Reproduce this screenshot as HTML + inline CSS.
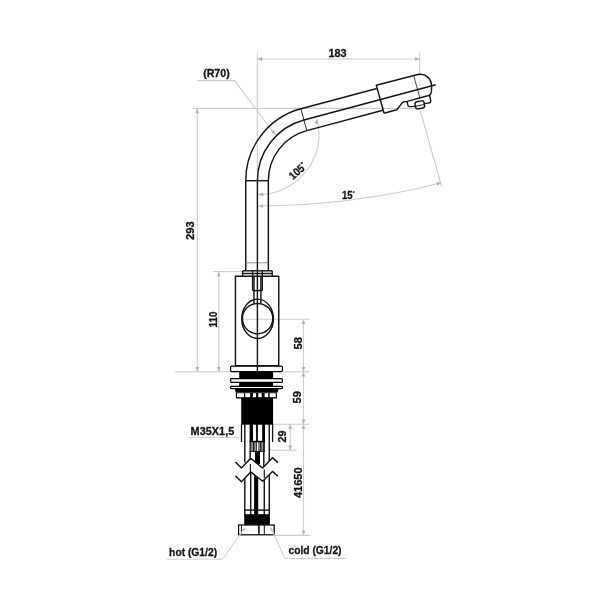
<!DOCTYPE html>
<html><head><meta charset="utf-8">
<style>
html,body{margin:0;padding:0;background:#fff;}
svg{display:block;}
text{font-family:"Liberation Sans",sans-serif;font-weight:bold;font-size:11px;fill:#161616;stroke:#161616;stroke-width:0.3;}
.k{stroke:#161616;stroke-width:1.45;fill:none;stroke-linejoin:round;stroke-linecap:butt;}
.kt{stroke:#161616;stroke-width:0.7;fill:none;}
.g{stroke:#cecece;stroke-width:1.1;fill:none;}
.a{fill:#b5b5b5;stroke:none;}
.b{fill:#000;stroke:none;}
.w{fill:#fff;stroke:#000;stroke-width:1.2;}
</style></head>
<body>
<svg width="604" height="604" viewBox="0 0 604 604">
<rect width="604" height="604" fill="#fff"/>

<!-- gray dimension lines -->
<g class="g">
<line x1="257.3" y1="52.5" x2="257.3" y2="181"/>
<line x1="419.7" y1="52.5" x2="419.7" y2="74"/>
<line x1="419.7" y1="74" x2="419.7" y2="108.5" stroke="#e6e6e6"/>
<line x1="257.3" y1="59" x2="419.7" y2="59"/>
<line x1="193" y1="108.4" x2="420" y2="108.4"/>
<line x1="197.3" y1="108.4" x2="197.3" y2="371.8"/>
<line x1="175" y1="371.8" x2="236" y2="371.8"/>
<line x1="213" y1="271.6" x2="243" y2="271.6"/>
<line x1="218.8" y1="271.6" x2="218.8" y2="371.8"/>
<polyline points="197.4,80.6 234.6,80.6 275.3,134.8"/>
<line x1="243" y1="319.3" x2="309.7" y2="319.3"/>
<line x1="283" y1="371.8" x2="309.5" y2="371.8"/>
<line x1="273.5" y1="424.3" x2="309.5" y2="424.3"/>
<line x1="274.7" y1="535.4" x2="310.5" y2="535.4"/>
<line x1="303.5" y1="319.3" x2="303.5" y2="535.4"/>
<line x1="269.6" y1="450.2" x2="296.8" y2="450.2"/>
<line x1="290.2" y1="424.3" x2="290.2" y2="450.2"/>
<line x1="189.6" y1="437.4" x2="241" y2="437.4" stroke-width="0.9"/>
<polyline points="166.6,559.2 222.6,559.2 238.6,536.6" stroke-width="1"/>
<polyline points="346.1,558.4 284.8,558.4 274.6,535.7" stroke-width="1"/>
<line x1="419.7" y1="108.5" x2="441.6" y2="186.5"/>
<path d="M258.3,206 A741,741 0 0 0 441.4,182.8"/>
<path d="M258.3,194.6 A61,60.5 0 0 0 317.1,118.9"/>
</g>
<g class="a">
<polygon points="257.30,59.00 262.10,57.10 262.10,60.90"/>
<polygon points="419.70,59.00 414.90,60.90 414.90,57.10"/>
<polygon points="197.30,108.40 199.20,113.20 195.40,113.20"/>
<polygon points="197.30,371.80 195.40,367.00 199.20,367.00"/>
<polygon points="218.80,271.60 220.70,276.40 216.90,276.40"/>
<polygon points="218.80,371.80 216.90,367.00 220.70,367.00"/>
<polygon points="303.50,319.30 305.40,324.10 301.60,324.10"/>
<polygon points="303.50,371.80 301.60,367.00 305.40,367.00"/>
<polygon points="303.50,371.80 305.40,376.60 301.60,376.60"/>
<polygon points="303.50,424.30 301.60,419.50 305.40,419.50"/>
<polygon points="303.50,424.30 305.40,429.10 301.60,429.10"/>
<polygon points="303.50,535.40 301.60,530.60 305.40,530.60"/>
<polygon points="290.20,424.30 292.10,429.10 288.30,429.10"/>
<polygon points="290.20,450.20 288.30,445.40 292.10,445.40"/>
<polygon points="275.30,134.80 270.90,132.10 273.94,129.82"/>
<polygon points="258.30,194.60 263.04,192.56 263.15,196.36"/>
<polygon points="317.10,118.90 317.92,124.00 314.21,123.18"/>
<polygon points="258.30,206.00 263.10,204.10 263.10,207.90"/>
<polygon points="441.40,182.80 437.20,185.81 436.28,182.12"/>
</g>

<!-- spout -->
<g class="k">
<line x1="245.75" y1="180.7" x2="245.75" y2="270.7"/>
<line x1="268.35" y1="180.7" x2="268.35" y2="270.7"/>
<line x1="245.75" y1="180.7" x2="268.35" y2="180.7"/>
<path d="M245.75,180.7 A74.45,74.45 0 0 1 300.93,108.79 L376.9,88.43"/>
<path d="M257.4,180.7 A62.8,62.8 0 0 1 303.95,120.04 L435.7,84.75"/>
<path d="M268.35,180.7 A51.85,51.85 0 0 1 306.78,130.62 L382.9,110.2"/>
<path d="M384.1,113.2 L376.3,85.3 L417.85,74.5 C424.5,72.9 431.6,77.8 431.6,86.7 L431.4,91.4 Q431.3,94.2 429.6,95.2 L430.7,100.6 Q430.9,102.9 428.6,103.1 L424.2,103.4"/>
<path d="M384.1,113.2 L396.8,109.7 L402.2,102.9 Q403,101.9 404.4,101.8 L407.1,101.4 L429.6,95.3"/>
<path d="M407.1,101.4 L407.8,105 Q408,106.6 409.6,106.6 L415.2,106.4"/>
<g transform="translate(419.8,104.9) rotate(-11)">
<rect x="-4.6" y="-3.6" width="9.2" height="7.2" rx="2.2" ry="2.2"/>
<line x1="-4.4" y1="0.5" x2="4.4" y2="0.5" stroke-width="0.9"/>
</g>
</g>
<g class="kt">
<line x1="300.93" y1="108.79" x2="306.78" y2="130.62" stroke-width="0.9"/>
<line x1="413.9" y1="76.2" x2="419.8" y2="97.8" stroke-width="0.8"/>
<line x1="245.75" y1="262.8" x2="268.35" y2="262.8" stroke="#777" stroke-width="0.8"/>
</g>

<line class="k" x1="257.4" y1="180.7" x2="257.4" y2="372.5" stroke-width="1.1"/>

<!-- collar -->
<g class="k" stroke-width="0.9">
<line x1="242.8" y1="270.8" x2="272" y2="270.8"/>
<line x1="242.6" y1="273.5" x2="272.2" y2="273.5"/>
<line x1="242.6" y1="270.8" x2="242.6" y2="276.3"/>
<line x1="272.2" y1="270.8" x2="272.2" y2="276.3"/>
</g>
<rect class="k" x="235.45" y="276.3" width="43.3" height="89.4" stroke-width="1.3"/>
<g class="k" stroke-width="1">
<line x1="252.6" y1="270.8" x2="252.6" y2="290.6"/>
<line x1="254.0" y1="276.3" x2="254.0" y2="303.6"/>
<line x1="260.9" y1="276.3" x2="260.9" y2="303.6"/>
<line x1="262.3" y1="270.8" x2="262.3" y2="290.6"/>
<line x1="252.6" y1="290.6" x2="262.3" y2="290.6"/>
</g>
<circle class="k" cx="257.6" cy="318.6" r="15.2" stroke-width="1.3"/>
<ellipse class="k" cx="257.55" cy="318.75" rx="15.85" ry="19.65" stroke-width="1.3"/>

<!-- base / thread -->
<rect class="b" x="239.2" y="371" width="33.9" height="16"/>
<rect class="w" x="230.6" y="366.2" width="51.8" height="5.4" rx="1" ry="1"/>
<line class="k" x1="257.4" y1="365" x2="257.4" y2="372" stroke-width="1.1"/>
<rect class="w" x="230.6" y="378.7" width="51.8" height="3.6" rx="0.8" ry="0.8"/>
<rect class="w" x="230.6" y="386.3" width="51.8" height="2.4" rx="0.8" ry="0.8"/>
<polygon class="b" points="234.8,389 278.5,389 277.6,392.6 235.8,392.6"/>
<rect class="b" x="235.9" y="392.4" width="41" height="6.1"/>
<g fill="#fff">
<rect x="237.0" y="393.2" width="7.1" height="4"/>
<rect x="245.2" y="393.2" width="4.9" height="4"/>
<rect x="252.9" y="393.2" width="3.2" height="4"/>
<rect x="258.3" y="393.2" width="3.3" height="4"/>
<rect x="264.6" y="393.2" width="3.6" height="4"/>
<rect x="269.6" y="393.2" width="6.2" height="4"/>
</g>
<rect class="b" x="241.2" y="398" width="31.9" height="26.7"/>

<!-- hoses -->
<g class="k" stroke-width="1.6" stroke="#000">
<line x1="241.5" y1="424" x2="241.5" y2="442" stroke-width="1.3"/>
<line x1="272.6" y1="424" x2="272.6" y2="442" stroke-width="1.3"/>
<line x1="244.8" y1="424" x2="244.8" y2="462.5"/>
<line x1="269.3" y1="424" x2="269.3" y2="461"/>
<line x1="244.8" y1="478" x2="244.8" y2="515"/>
<line x1="269.3" y1="474.5" x2="269.3" y2="515"/>
</g>
<rect class="b" x="249.6" y="424" width="3.4" height="18"/>
<rect class="b" x="256.1" y="424" width="1.8" height="18"/>
<rect class="b" x="262.2" y="424" width="2.8" height="18"/>
<rect class="b" x="249.6" y="440.8" width="15.2" height="1.5"/>
<rect class="b" x="249.6" y="441" width="1.2" height="10.8"/>
<rect class="b" x="263.6" y="441" width="1.2" height="10.8"/>
<rect class="b" x="249.6" y="450.9" width="15.2" height="0.9"/>
<g class="b">
<rect x="251.50" y="442" width="0.9" height="9.3"/>
<rect x="252.95" y="442" width="0.9" height="9.3"/>
<rect x="254.40" y="442" width="0.9" height="9.3"/>
<rect x="255.85" y="442" width="0.9" height="9.3"/>
<rect x="258.50" y="442" width="0.9" height="9.3"/>
<rect x="259.95" y="442" width="0.9" height="9.3"/>
<rect x="261.40" y="442" width="0.9" height="9.3"/>
<rect x="262.85" y="442" width="0.9" height="9.3"/>
</g>
<g class="k" stroke="#000" stroke-width="1.3">
<line x1="250.2" y1="451" x2="250.2" y2="459"/>
<line x1="263.8" y1="451" x2="263.8" y2="467"/>
<line x1="250.7" y1="473" x2="250.7" y2="515"/>
<line x1="264.3" y1="480" x2="264.3" y2="515"/>
</g>
<rect class="b" x="255" y="451" width="5" height="13"/>
<rect class="b" x="254.1" y="474" width="4.1" height="41"/>
<polygon fill="#fff" points="235.4,462.1 241.4,468.1 250.7,458.3 262.7,468.1 272.5,457.7 278,462.6 278,476.3 272.5,471.4 262.7,481.2 250.7,471.9 241.4,481.7 235.4,475.7"/>
<g class="k" stroke="#000" stroke-width="1.4" stroke-linejoin="miter">
<polyline points="235.4,462.1 241.4,468.1 250.7,458.3 262.7,468.1 272.5,457.7 278,462.6"/>
<polyline points="235.4,475.7 241.4,481.7 250.7,471.9 262.7,481.2 272.5,471.4 278,476.3"/>
<line x1="250.4" y1="464" x2="250.4" y2="472" stroke-width="1.15"/>
<line x1="264.3" y1="469.5" x2="264.3" y2="478" stroke-width="1.15"/>
</g>
<line class="k" stroke="#000" x1="244.2" y1="510.1" x2="269.9" y2="510.1" stroke-width="1.1"/>
<rect class="b" x="244.2" y="514.2" width="25.7" height="10.6"/>
<rect class="w" x="238.6" y="525" width="35.6" height="9.8" stroke-width="1.3"/>
<g class="k" stroke="#000">
<line x1="241.4" y1="525" x2="241.4" y2="535" stroke-width="1"/>
<line x1="258.9" y1="525" x2="258.9" y2="535" stroke-width="1.6"/>
<line x1="264.3" y1="525" x2="264.3" y2="535" stroke-width="1"/>
</g>
<g class="g" stroke-width="0.7"><line x1="238.6" y1="536.6" x2="245.2" y2="527.6"/><line x1="274.6" y1="535.7" x2="270.4" y2="527.6"/></g>
<g class="a"><polygon points="245.20,527.60 243.96,531.15 242.18,529.85"/><polygon points="270.40,527.60 273.03,530.29 271.08,531.30"/></g>

<!-- text -->
<g style="filter:grayscale(1)">
<text x="203.2" y="77.3" textLength="26.5" lengthAdjust="spacingAndGlyphs">(R70)</text>
<text x="328.5" y="56.6" textLength="18.1" lengthAdjust="spacingAndGlyphs">183</text>
<text x="190.6" y="434.9" textLength="43.7" lengthAdjust="spacingAndGlyphs">M35X1,5</text>
<text x="169.1" y="555.6" textLength="48" lengthAdjust="spacingAndGlyphs">hot (G1/2)</text>
<text x="288.5" y="554.3" textLength="53" lengthAdjust="spacingAndGlyphs">cold (G1/2)</text>
<text transform="translate(193.8,239.9) rotate(-90)" textLength="18.6" lengthAdjust="spacingAndGlyphs">293</text>
<text transform="translate(217,327.5) rotate(-90)" textLength="16" lengthAdjust="spacingAndGlyphs">110</text>
<text transform="translate(301.8,349.4) rotate(-90)" textLength="12.4" lengthAdjust="spacingAndGlyphs">58</text>
<text transform="translate(301.3,403.4) rotate(-90)" textLength="12.3" lengthAdjust="spacingAndGlyphs">59</text>
<text transform="translate(286.3,442.5) rotate(-90)" textLength="12" lengthAdjust="spacingAndGlyphs">29</text>
<text transform="translate(301.5,498.1) rotate(-90)" textLength="30.7" lengthAdjust="spacingAndGlyphs">41650</text>
<text x="341.9" y="198.7" textLength="10.6" lengthAdjust="spacingAndGlyphs">15</text>
<text x="352.6" y="195" style="font-size:6px">°</text>
<g transform="translate(293.1,180.3) rotate(-42)"><text x="0" y="0" textLength="16.5" lengthAdjust="spacingAndGlyphs">105</text><text x="16.6" y="-3.8" style="font-size:6px">°</text></g>
</g>
</svg>
</body></html>
